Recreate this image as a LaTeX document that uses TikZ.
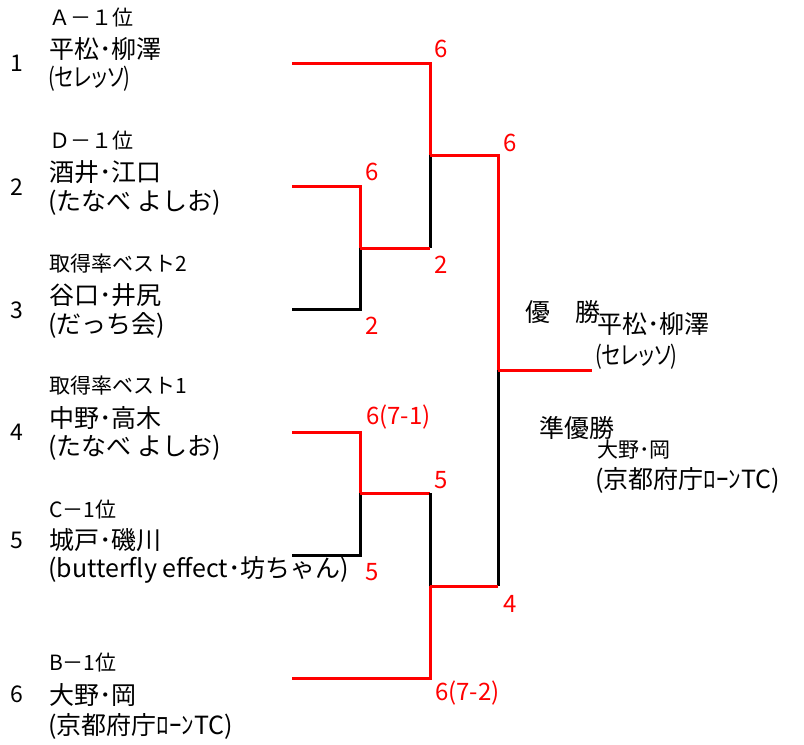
\documentclass[tikz,border=0pt]{standalone}
\usepackage{fontspec}
\setmainfont{Noto Sans CJK JP}
\newfontfamily\pfont[RawFeature=+palt,FakeStretch=0.8]{Noto Sans CJK JP}
\begin{document}
\begin{tikzpicture}[x=1pt,y=-1pt,
  win/.style={draw=red,line width=3pt},
  lose/.style={draw=black,line width=3pt},
  seed/.style={anchor=center,inner sep=0pt,font=\fontsize{23}{23}\selectfont},
  grp/.style={anchor=west,inner sep=0pt,font=\fontsize{21}{21}\selectfont},
  nm/.style={anchor=west,inner sep=0pt,font=\fontsize{25}{25}\selectfont},
  sm/.style={anchor=west,inner sep=0pt,font=\fontsize{21}{21}\selectfont},
  sc/.style={anchor=center,inner sep=0pt,text=red,font=\fontsize{24}{24}\selectfont},
  scw/.style={anchor=west,inner sep=0pt,text=red,font=\fontsize{24}{24}\selectfont}]
\useasboundingbox (0,0) rectangle (804,745);
% bracket points
\coordinate (s1) at (292,63);
\coordinate (s2) at (292,186);
\coordinate (s3) at (292,309);
\coordinate (s4) at (292,432);
\coordinate (s5) at (292,555);
\coordinate (s6) at (292,678);
\coordinate (a1) at (360,186);
\coordinate (a23) at (360,248);
\coordinate (a3) at (360,309);
\coordinate (b1) at (430,63);
\coordinate (b123) at (430,155);
\coordinate (b23) at (430,248);
\coordinate (c4) at (360,432);
\coordinate (c45) at (360,493);
\coordinate (c5) at (360,555);
\coordinate (d45) at (430,493);
\coordinate (d456) at (430,586);
\coordinate (d6) at (430,678);
\coordinate (e1) at (498,155);
\coordinate (ef) at (498,370);
\coordinate (e2) at (498,586);
\coordinate (fin) at (592,370);
% lines
\draw[win] (s1) -- (b1) -- (b123);
\draw[lose] (b123) -- (b23);
\draw[win] (s2) -- (a1) -- (a23);
\draw[lose] (a23) -- (a3) -- (s3);
\draw[win] (a23) -- (b23);
\draw[win] (b123) -- (e1) -- (ef);
\draw[lose] (ef) -- (e2);
\draw[win] (ef) -- (fin);
\draw[win] (s4) -- (c4) -- (c45);
\draw[lose] (c45) -- (c5) -- (s5);
\draw[win] (c45) -- (d45);
\draw[lose] (d45) -- (d456);
\draw[win] (d456) -- (d6) -- (s6);
\draw[win] (d456) -- (e2);
% seed numbers
\node[seed] (n1) at (17,63) {1};
\node[seed] (n2) at (17,187) {2};
\node[seed] (n3) at (17,310) {3};
\node[seed] (n4) at (17,432) {4};
\node[seed] (n5) at (17,540) {5};
\node[seed] (n6) at (17,694) {6};
% entries
\node[grp] (g1) at (49,17.5) {Ａ－１位};
\node[nm] (p1) at (49,49) {平松･柳澤};
\node[nm] (t1) at (48,79) {\pfont(セレッソ)};
\node[grp] (g2) at (49,141) {Ｄ－１位};
\node[nm] (p2) at (49,172) {酒井･江口};
\node[nm] (t2) at (48,203) {(たなべ よしお)};
\node[grp] (g3) at (49,264) {取得率ベスト2};
\node[nm] (p3) at (49,295) {谷口･井尻};
\node[nm] (t3) at (48,325) {(だっち会)};
\node[grp] (g4) at (49,386) {取得率ベスト1};
\node[nm] (p4) at (49,418) {中野･高木};
\node[nm] (t4) at (48,448) {(たなべ よしお)};
\node[grp] (g5) at (49,510) {C－1位};
\node[nm] (p5) at (49,540) {城戸･磯川};
\node[nm] (t5) at (48,570) {(butterfly effect･坊ちゃん)};
\node[grp] (g6) at (49,663) {B－1位};
\node[nm] (p6) at (49,695) {大野･岡};
\node[nm] (t6) at (48,726) {(京都府庁ﾛｰﾝTC)};
% scores
\node[sc] (r1) at (441,49) {6};
\node[sc] (r2) at (372,172) {6};
\node[sc] (r3) at (441,265) {2};
\node[sc] (r4) at (372,326) {2};
\node[sc] (r5) at (510,143) {6};
\node[scw] (r6) at (366,417) {6(7-1)};
\node[sc] (r7) at (441,480) {5};
\node[sc] (r8) at (372,572) {5};
\node[sc] (r9) at (510,604) {4};
\node[scw] (r10) at (435,693) {6(7-2)};
% results
\node[nm] (w0) at (525,312) {優　勝};
\node[nm] (w1) at (597,324) {平松･柳澤};
\node[nm] (w2) at (595,357) {\pfont(セレッソ)};
\node[nm] (u0) at (539,428) {準優勝};
\node[sm] (u1) at (597,450) {大野･岡};
\node[nm] (u2) at (595,480) {(京都府庁ﾛｰﾝTC)};
\end{tikzpicture}
\end{document}
